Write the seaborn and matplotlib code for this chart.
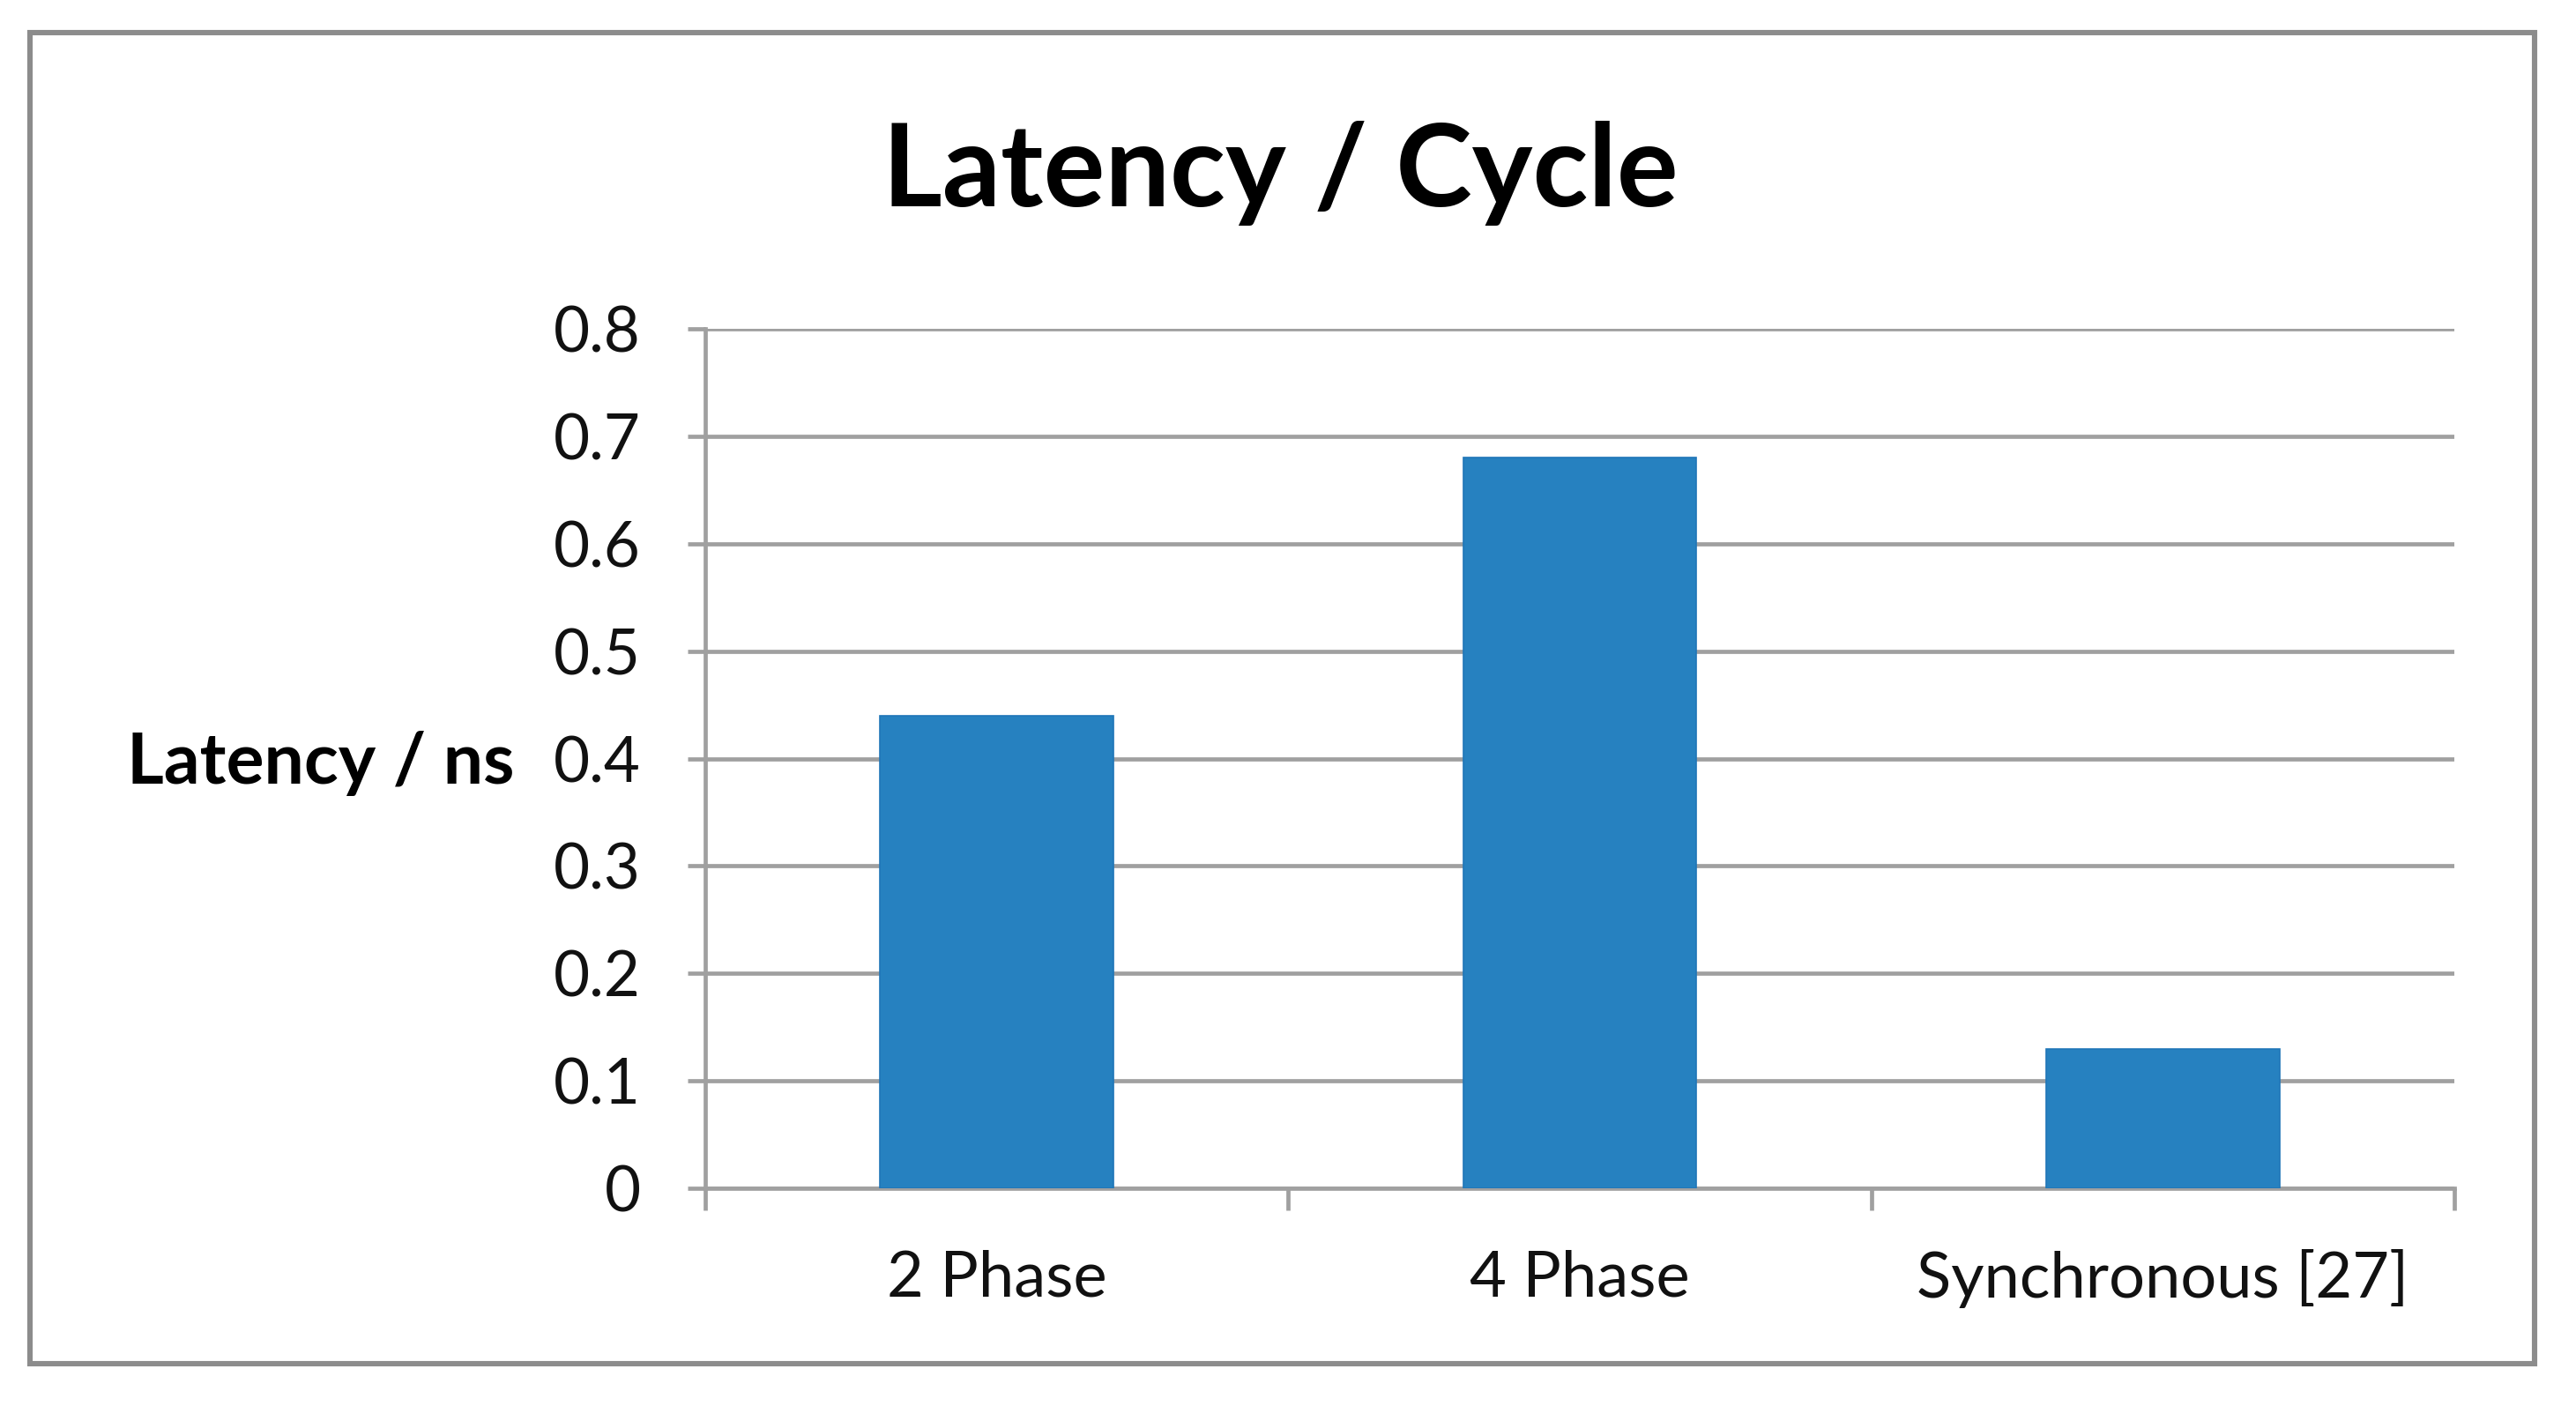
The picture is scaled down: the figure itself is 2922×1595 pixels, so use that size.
import matplotlib
matplotlib.use("Agg")
import matplotlib.pyplot as plt
import seaborn as sns
from matplotlib.patches import Rectangle
from matplotlib.ticker import FixedLocator

sns.set_style("white")
plt.rcParams["font.family"] = ["Lato", "DejaVu Sans"]

categories = ["2 Phase", "4 Phase", "Synchronous [27]"]
latency_ns = [0.44, 0.68, 0.13]
y_ticks = [0, 0.1, 0.2, 0.3, 0.4, 0.5, 0.6, 0.7, 0.8]
y_tick_labels = ["0", "0.1", "0.2", "0.3", "0.4", "0.5", "0.6", "0.7", "0.8"]

grid_color = "#a0a0a0"
bar_color = "#2681c0"

fig = plt.figure(figsize=(14.61, 7.975), dpi=200)
ax = fig.add_axes([0.2738, 0.1549, 0.6790, 0.6112])

sns.barplot(x=categories, y=latency_ns, color=bar_color, saturation=1,
            width=0.4, edgecolor="#1f76b8", linewidth=0.6, ax=ax, zorder=3)

ax.set_xlim(-0.5, 2.5)
ax.set_ylim(0, 0.8)
ax.set_yticks(y_ticks)
ax.set_yticklabels(y_tick_labels)
ax.yaxis.grid(True, color=grid_color, linewidth=1.7, zorder=0)
ax.set_axisbelow(True)

for side in ["top", "right"]:
    ax.spines[side].set_visible(False)
for side in ["left", "bottom"]:
    ax.spines[side].set_color(grid_color)
    ax.spines[side].set_linewidth(1.7)

ax.tick_params(axis="y", length=7.3, width=1.7, color=grid_color, pad=19,
               labelsize=25.5, labelcolor="#111111", left=True)
ax.tick_params(axis="x", which="major", length=0, pad=25,
               labelsize=26, labelcolor="#111111")
ax.xaxis.set_minor_locator(FixedLocator([-0.5, 0.5, 1.5, 2.5]))
ax.tick_params(axis="x", which="minor", length=9, width=1.7,
               color=grid_color, bottom=True)

ax.set_ylabel("Latency / ns", rotation=0, fontsize=29, fontweight="bold",
              ha="center", va="center", color="black")
ax.yaxis.set_label_coords(-0.220, 0.494)
ax.set_xlabel("")

fig.text(0.497, 0.877, "Latency / Cycle", fontsize=47, fontweight="bold",
         ha="center", va="center", color="black")

# outer frame around the whole chart
fig.patches.append(Rectangle((0.0116, 0.030), 0.9724, 0.947,
                             transform=fig.transFigure, fill=False,
                             edgecolor="#8c8c8c", linewidth=2.2))

fig.savefig("out.png", dpi=200)
